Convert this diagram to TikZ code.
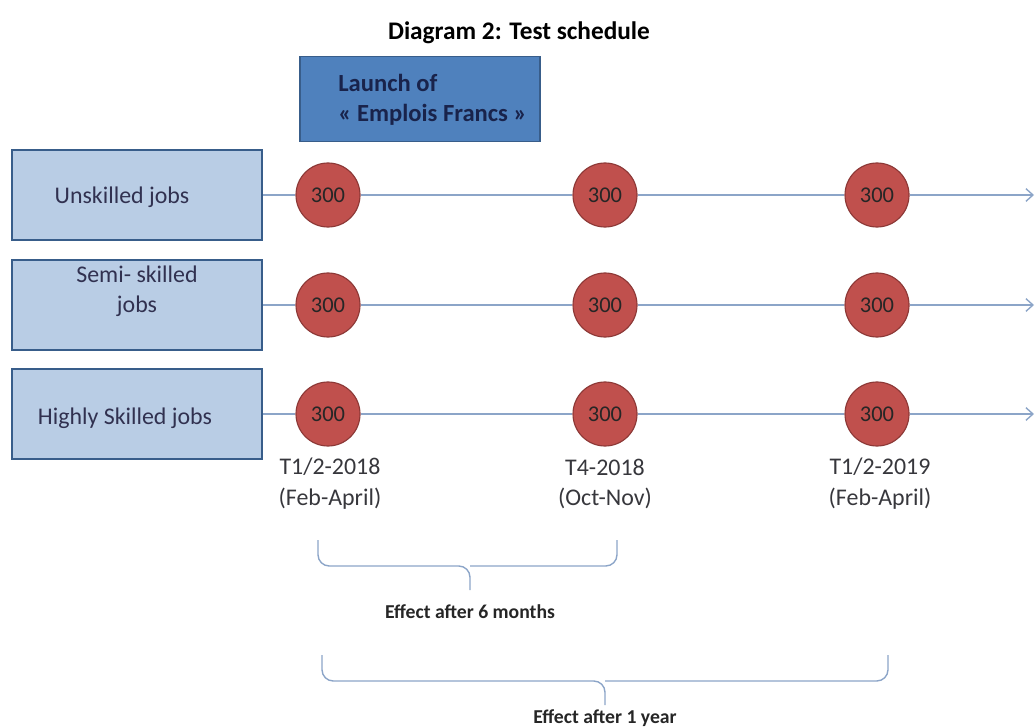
\documentclass[tikz,border=0pt]{standalone}
\usepackage{fontspec}
\setmainfont{Carlito}
\usetikzlibrary{arrows.meta,positioning}
\definecolor{tsblue}{RGB}{79,129,189}
\definecolor{tsblueline}{RGB}{56,93,138}
\definecolor{tslight}{RGB}{185,205,229}
\definecolor{tsred}{RGB}{192,80,77}
\definecolor{tsredline}{RGB}{140,56,54}
\definecolor{tsaxis}{RGB}{140,165,200}
\definecolor{tstext}{RGB}{55,55,60}
\definecolor{tsnavy}{RGB}{25,35,75}

\begin{document}
\begin{tikzpicture}[
  x=0.025cm,y=-0.025cm,
  every node/.style={font=\fontsize{17}{22}\selectfont,text=tstext},
  jobbox/.style={draw=tsblueline,line width=1.4pt,fill=tslight,minimum width=6.25cm,minimum height=2.25cm},
  joblbl/.style={align=center,font=\fontsize{17}{21}\selectfont,text=tstext!90!blue},
  launchbox/.style={draw=tsblueline,line width=1pt,fill=tsblue,minimum width=6cm,minimum height=2.125cm},
  launchlbl/.style={align=left,anchor=west,inner sep=0pt,font=\bfseries\fontsize{17.5}{21}\selectfont,text=tsnavy},
  count/.style={circle,draw=tsredline,line width=0.8pt,fill=tsred,minimum size=1.6cm,inner sep=0pt,font=\fontsize{16}{18}\selectfont,text=black!85},
  timeline/.style={draw=tsaxis,line width=1pt},
  bracket/.style={draw=tsaxis,line width=1pt,rounded corners=8pt},
  effectlbl/.style={font=\bfseries\fontsize{14}{16}\selectfont,text=black!85}
]
\useasboundingbox (0,0) rectangle (1036,727);
% Title and launch
\node[font=\bfseries\fontsize{18}{22}\selectfont,text=black] (title) at (519,33) {Diagram 2: Test schedule};
\node[launchbox] (launch) at (420,99) {};
\node[launchlbl] (launchtxt) at (338,100) {Launch of\\« Emplois Francs »};
% Job categories
\node[jobbox] (unskilled) at (137,195) {};
\node[joblbl] (unskilledtxt) at (122,197) {Unskilled jobs};
\node[jobbox] (semi) at (137,305) {};
\node[joblbl] (semitxt) at (137,291) {Semi- skilled\\jobs};
\node[jobbox] (high) at (137,414) {};
\node[joblbl] (hightxt) at (125,418) {Highly Skilled jobs};
% Test waves
\node[count] (u1) at (328,195) {300};
\node[count] (u2) at (605,195) {300};
\node[count] (u3) at (877,195) {300};
\node[count] (s1) at (328,305) {300};
\node[count] (s2) at (605,305) {300};
\node[count] (s3) at (877,305) {300};
\node[count] (h1) at (328,414) {300};
\node[count] (h2) at (605,414) {300};
\node[count] (h3) at (877,414) {300};
\coordinate (uend) at (1034,195);
\coordinate (send) at (1034,305);
\coordinate (hend) at (1034,414);
\draw[timeline] (unskilled) -- (u1) -- (u2) -- (u3);
\draw[timeline,-{Straight Barb[length=5pt,width=9pt]}] (u3) -- (uend);
\draw[timeline] (semi) -- (s1) -- (s2) -- (s3);
\draw[timeline,-{Straight Barb[length=5pt,width=9pt]}] (s3) -- (send);
\draw[timeline] (high) -- (h1) -- (h2) -- (h3);
\draw[timeline,-{Straight Barb[length=5pt,width=9pt]}] (h3) -- (hend);
% Dates
\node[align=center] (d1) at (330,484) {T1/2-2018\\(Feb-April)};
\node[align=center] (d2) at (605,484) {T4-2018\\(Oct-Nov)};
\node[align=center] (d3) at (880,484) {T1/2-2019\\(Feb-April)};
% Effect brackets
\coordinate (sixl) at (318,540);
\coordinate (sixr) at (617,540);
\coordinate (sixm) at (470,566);
\coordinate (sixtip) at (470,590);
\draw[bracket] (sixl) |- (sixm) -- (sixtip);
\draw[bracket] (sixr) |- (sixm);
\node[effectlbl] (six) at (470,612) {Effect after 6 months};
\coordinate (yearl) at (322,655);
\coordinate (yearr) at (888,655);
\coordinate (yearm) at (605,681);
\coordinate (yeartip) at (605,705);
\draw[bracket] (yearl) |- (yearm) -- (yeartip);
\draw[bracket] (yearr) |- (yearm);
\node[effectlbl] (year) at (605,718) {Effect after 1 year};
\end{tikzpicture}
\end{document}
